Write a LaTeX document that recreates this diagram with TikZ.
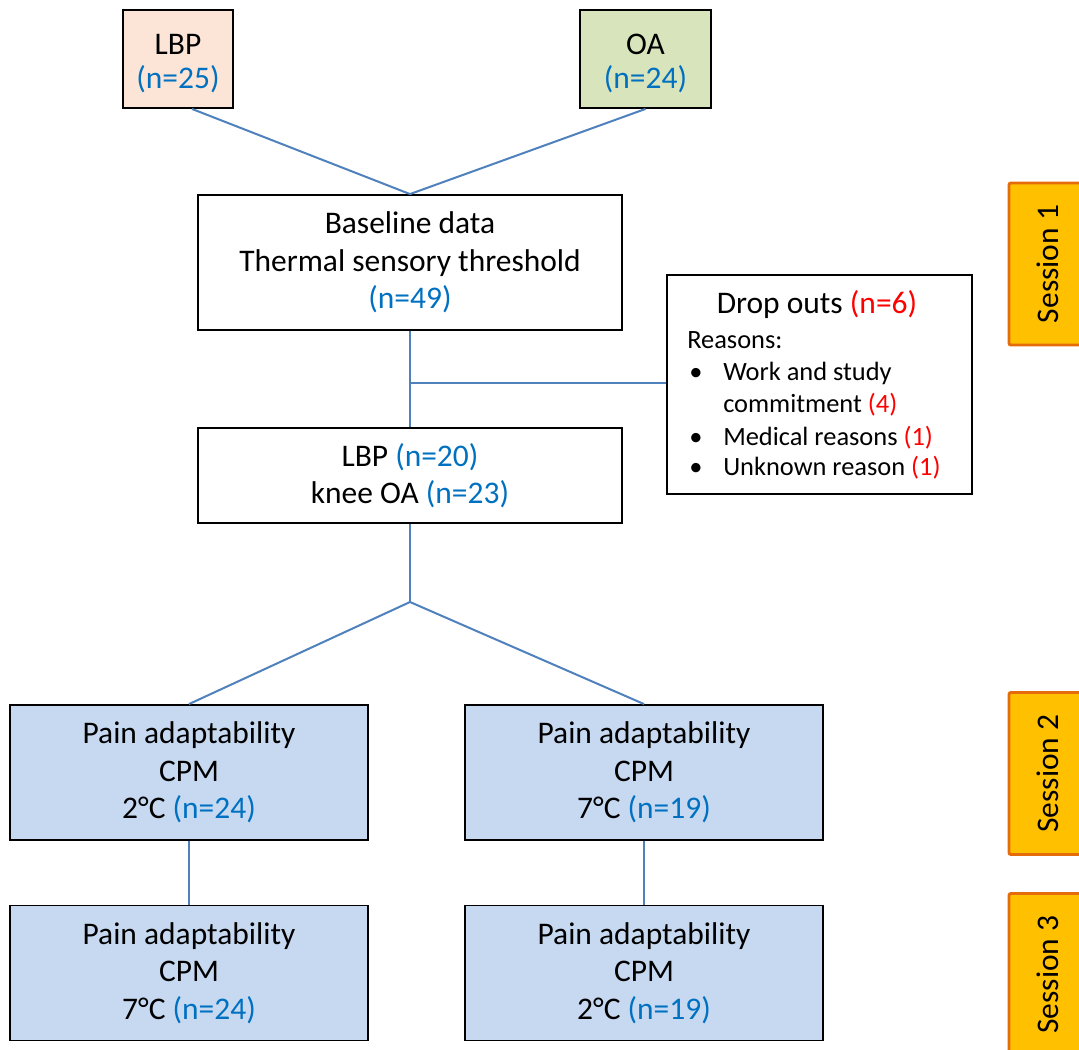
\documentclass[tikz,border=0pt]{standalone}
\usepackage{fontspec}
\setmainfont{Carlito}
\usetikzlibrary{calc}
\definecolor{lineblue}{HTML}{4F81BD}
\definecolor{nblue}{HTML}{0070C0}
\definecolor{peach}{HTML}{FCE4D6}
\definecolor{olive}{HTML}{D8E4BC}
\definecolor{cpmfill}{HTML}{C6D9F1}
\definecolor{sessfill}{HTML}{FFC000}
\definecolor{sessedge}{HTML}{E46C0A}
\definecolor{nred}{HTML}{FF0000}
\begin{document}
\begin{tikzpicture}[x=0.75pt,y=-0.75pt,
  box/.style={draw=black, line width=1.4pt, align=center, inner sep=0pt,
    font=\fontsize{23.6}{28}\selectfont},
  topbox/.style={box, font=\fontsize{23.6}{25}\selectfont, minimum height=73.5pt},
  cpm/.style={box, fill=cpmfill, minimum width=268.5pt, minimum height=101.25pt},
  conn/.style={draw=lineblue, line width=1.5pt},
  sess/.style={draw=sessedge, fill=sessfill, line width=2.2pt, rounded corners=1.5pt,
    rotate=90, minimum width=121.5pt, minimum height=58.5pt, inner sep=0pt,
    font=\fontsize{23.6}{28}\selectfont},
  small/.style={inner sep=0pt, font=\fontsize{19.8}{24}\selectfont},
  big/.style={inner sep=0pt, font=\fontsize{23.6}{28}\selectfont}]
\clip (0,0) rectangle (1079,1050);
\fill[white] (0,0) rectangle (1079,1050);

% top boxes
\node[topbox, fill=peach, minimum width=82.5pt] (lbp) at (178,59)
  {\rule{0pt}{22pt}LBP\\\textcolor{nblue}{(n=25)}};
\node[topbox, fill=olive, minimum width=98.25pt] (oa) at (645.5,59)
  {\rule{0pt}{22pt}OA\\\textcolor{nblue}{(n=24)}};

\node[box, fill=white, minimum width=318pt, minimum height=101.25pt] (base) at (410,262.5)
  {Baseline data\\Thermal sensory threshold\\\textcolor{nblue}{(n=49)}};

\node[box, fill=white, minimum width=318pt, minimum height=71.25pt] (knee) at (410,475.5)
  {LBP \textcolor{nblue}{(n=20)}\\knee OA \textcolor{nblue}{(n=23)}};

% drop outs
\node[draw=black, line width=1.4pt, fill=white, minimum width=228.75pt, minimum height=164.25pt, inner sep=0pt] (drop) at (819.5,384.5) {};
\node[big, anchor=base] (droptitle) at (817,313) {Drop outs \textcolor{nred}{(n=6)}};
\node[small, anchor=base west] (reasons) at (687,348) {Reasons:};
\node[small, anchor=base west] (bu1) at (689,380) {\textbullet};
\node[small, anchor=base west] (r1) at (723,380) {Work and study};
\node[small, anchor=base west] (r1b) at (723,412) {commitment \textcolor{nred}{(4)}};
\node[small, anchor=base west] (bu2) at (689,445) {\textbullet};
\node[small, anchor=base west] (r2) at (723,445) {Medical reasons \textcolor{nred}{(1)}};
\node[small, anchor=base west] (bu3) at (689,475) {\textbullet};
\node[small, anchor=base west] (r3) at (723,475) {Unknown reason \textcolor{nred}{(1)}};

% CPM boxes
\node[cpm] (c1) at (189,772.5) {Pain adaptability\\CPM\\2°C \textcolor{nblue}{(n=24)}};
\node[cpm] (c2) at (644,772.5) {Pain adaptability\\CPM\\7°C \textcolor{nblue}{(n=19)}};
\node[cpm] (c3) at (189,973) {Pain adaptability\\CPM\\7°C \textcolor{nblue}{(n=24)}};
\node[cpm] (c4) at (644,973) {Pain adaptability\\CPM\\2°C \textcolor{nblue}{(n=19)}};

% sessions
\node[sess] (s1) at (1048,264) {Session 1};
\node[sess] (s2) at (1048,773.5) {Session 2};
\node[sess] (s3) at (1048,974.5) {Session 3};

% connectors
\coordinate (split) at (410,602);
\coordinate (dropjoin) at (410,383);
\draw[conn] ($(lbp.south)+(14,0)$) -- (base.north);
\draw[conn] (oa.south) -- (base.north);
\draw[conn] (base.south) -- (knee.north);
\draw[conn] (dropjoin) -- (dropjoin -| drop.west);
\draw[conn] (knee.south) -- (split);
\draw[conn] (split) -- (c1.north);
\draw[conn] (split) -- (c2.north);
\draw[conn] (c1.south) -- (c3.north);
\draw[conn] (c2.south) -- (c4.north);
\end{tikzpicture}
\end{document}
